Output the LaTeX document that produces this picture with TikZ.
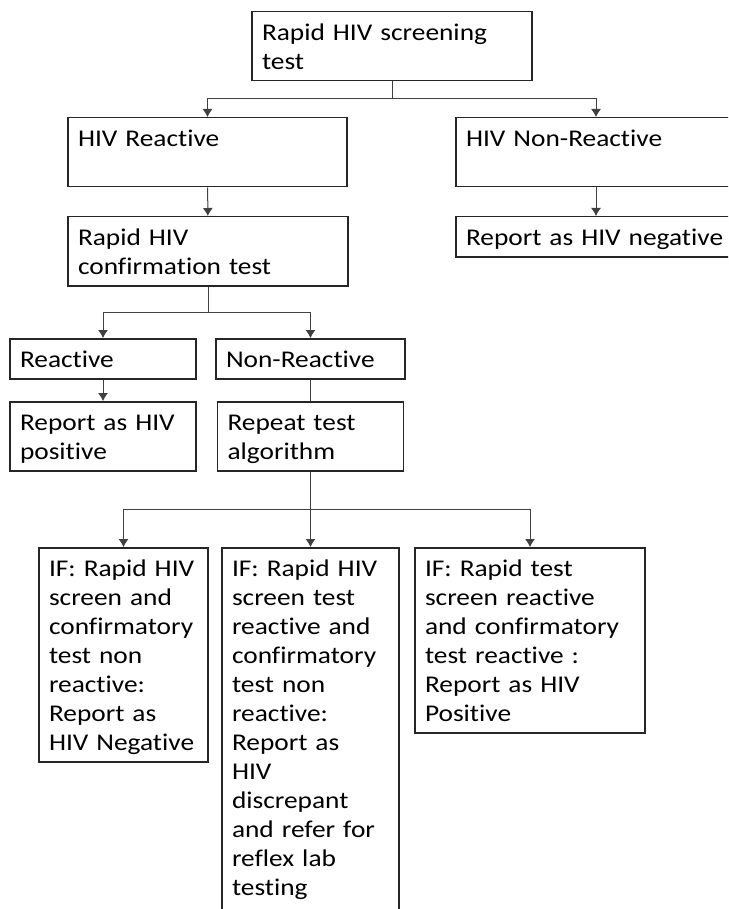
\documentclass[tikz,border=0pt]{standalone}
\usepackage{fontspec}
\setmainfont{Carlito}[FakeStretch=1.14, Ligatures=NoCommon]
\usetikzlibrary{arrows.meta, positioning, calc}

\begin{document}
\begin{tikzpicture}[
    x=0.5pt, y=-0.5pt,
    % Base styles
    box/.style={rectangle, draw=black!85, line width=0.75pt, fill=white, align=left, anchor=north, inner xsep=5pt, inner ysep=2.75pt, font=\fontsize{12}{14.5}\selectfont, execute at begin node={\rule{0pt}{11.6pt}}, execute at end node={\rule[-2.9pt]{0pt}{2.9pt}}},
    % Connectors
    arrow/.style={-{Latex[length=4pt,width=5pt]}, line width=0.5pt, draw=black!75},
    link/.style={line width=0.5pt, draw=black!75}
]

% === PAGE ===
\useasboundingbox (0,0) rectangle (728,909);
\fill[white] (0,0) rectangle (728,909);
\clip (0,0) rectangle (728,909);

% === SCREENING ===
\node[box, text width=130pt] (screen) at (392,11) {Rapid HIV screening\\test};

\node[box, text width=129.5pt] (hivreact) at (207.5,117) {HIV Reactive\\};
\node[box, text width=130pt] (hivnonreact) at (596,117) {HIV Non-Reactive\\};

\node[box, text width=130pt] (confirm) at (208,216) {Rapid HIV\\confirmation test};
\node[box, text width=130pt] (negative) at (596,216) {Report as HIV negative};

% === CONFIRMATION ===
\node[box, text width=83pt] (react) at (103,338) {Reactive};
\node[box, text width=84.5pt] (nonreact) at (310.5,338) {Non-Reactive};

\node[box, text width=83pt] (positive) at (103,401) {Report as HIV\\positive};
\node[box, text width=83pt] (repeat) at (310.5,401) {Repeat test\\algorithm};

% === REPEAT OUTCOMES ===
\node[box, text width=74.5pt] (outneg) at (123.5,547) {IF: Rapid HIV\\screen and\\confirmatory\\test non\\reactive:\\Report as\\HIV Negative};
\node[box, text width=78.5pt] (outdisc) at (310.5,547) {IF: Rapid HIV\\screen test\\reactive and\\confirmatory\\test non\\reactive:\\Report as\\HIV\\discrepant\\and refer for\\reflex lab\\testing\\};
\node[box, text width=105pt] (outpos) at (530,547) {IF: Rapid test\\screen reactive\\and confirmatory\\test reactive :\\Report as HIV\\Positive};

% === CONNECTIONS ===
\coordinate (split1) at (392,99);
\coordinate (split2) at (208,312);
\coordinate (split3) at (310.5,509);

\draw[link] (screen) -- (split1);
\draw[arrow] (split1) -| (hivreact);
\draw[arrow] (split1) -| (hivnonreact);
\draw[arrow] (hivreact) -- (confirm);
\draw[arrow] (hivnonreact) -- (negative);

\draw[link] (confirm) -- (split2);
\draw[arrow] (split2) -| (react);
\draw[arrow] (split2) -| (nonreact);
\draw[arrow] (react) -- (positive);
\draw[link] (nonreact) -- (repeat);

\draw[link] (repeat) -- (split3);
\draw[arrow] (split3) -| (outneg);
\draw[arrow] (split3) -- (outdisc);
\draw[arrow] (split3) -| (outpos);

\end{tikzpicture}
\end{document}
